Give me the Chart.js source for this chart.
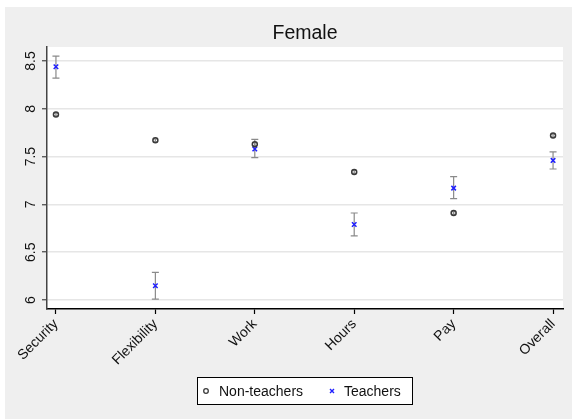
<!DOCTYPE html>
<html>
<head>
<meta charset="utf-8">
<script src="https://cdn.jsdelivr.net/npm/chart.js@4/dist/chart.umd.min.js"></script>
<style>
  html, body { margin: 0; padding: 0; background: #ffffff; }
  #wrap { width: 572px; height: 419px; }
</style>
</head>
<body>
<div id="wrap"><canvas id="c" width="572" height="419"></canvas></div>
<script>
// Job-satisfaction means by domain, female respondents
const categories = ['Security', 'Flexibility', 'Work', 'Hours', 'Pay', 'Overall'];
const nonTeachers = [7.94, 7.67, 7.63, 7.34, 6.91, 7.72];
const nonTeachersLow = [7.925, 7.655, 7.615, 7.325, 6.895, 7.705];
const nonTeachersHigh = [7.955, 7.685, 7.645, 7.355, 6.925, 7.735];
const teachers = [8.44, 6.15, 7.58, 6.79, 7.17, 7.46];
const teachersLow = [8.32, 6.01, 7.49, 6.67, 7.06, 7.37];
const teachersHigh = [8.55, 6.29, 7.68, 6.91, 7.29, 7.55];
const yTicks = [6, 6.5, 7, 7.5, 8, 8.5];
const titleText = 'Female';
const legendNames = ['Non-teachers', 'Teachers'];

const FONT = '"Liberation Sans", Arial, sans-serif';
const NT_COLOR = '#3a3a3a';
const T_COLOR = '#1f1fff';
const BAR_COLOR = '#8a8a8a';

const toPoints = vals => vals.map((v, i) => ({ x: i, y: v }));

// Backgrounds: page margin, gray panel, white plot region
const backdrop = {
  id: 'backdrop',
  beforeDraw(chart) {
    const { ctx, chartArea: a } = chart;
    ctx.save();
    ctx.fillStyle = '#ffffff';
    ctx.fillRect(0, 0, chart.width, chart.height);
    ctx.fillStyle = '#efefef';
    ctx.fillRect(5, 7, chart.width - 5, chart.height - 7);
    ctx.fillStyle = '#ffffff';
    ctx.fillRect(a.left, a.top, a.right - a.left, a.bottom - a.top);
    ctx.restore();
  }
};

// Confidence intervals drawn under the markers
const errorBars = {
  id: 'errorBars',
  beforeDatasetsDraw(chart) {
    const { ctx, scales: { x, y } } = chart;
    const sets = [
      { lo: nonTeachersLow, hi: nonTeachersHigh, cap: 2 },
      { lo: teachersLow, hi: teachersHigh, cap: 3.5 }
    ];
    ctx.save();
    ctx.strokeStyle = BAR_COLOR;
    ctx.lineWidth = 1.2;
    sets.forEach(s => {
      s.lo.forEach((lo, i) => {
        const px = x.getPixelForValue(i);
        const y1 = y.getPixelForValue(lo);
        const y2 = y.getPixelForValue(s.hi[i]);
        ctx.beginPath();
        ctx.moveTo(px, y1); ctx.lineTo(px, y2);
        ctx.moveTo(px - s.cap, y1); ctx.lineTo(px + s.cap, y1);
        ctx.moveTo(px - s.cap, y2); ctx.lineTo(px + s.cap, y2);
        ctx.stroke();
      });
    });
    ctx.restore();
  }
};

// Title, vertical y tick labels and boxed legend
const annotations = {
  id: 'annotations',
  afterDraw(chart) {
    const { ctx, chartArea: a, scales: { y } } = chart;
    ctx.save();
    // title centred over the plot region
    ctx.fillStyle = '#111111';
    ctx.font = '19.5px ' + FONT;
    ctx.textAlign = 'center';
    ctx.textBaseline = 'alphabetic';
    ctx.fillText(titleText, (a.left + a.right) / 2, 38.5);

    // y tick labels, reading bottom to top
    ctx.font = '14px ' + FONT;
    ctx.fillStyle = '#111111';
    yTicks.forEach(v => {
      const py = y.getPixelForValue(v);
      ctx.save();
      ctx.translate(35, py);
      ctx.rotate(-Math.PI / 2);
      ctx.textAlign = 'center';
      ctx.textBaseline = 'alphabetic';
      ctx.fillText(String(v), 0, 0);
      ctx.restore();
    });

    // legend box
    const bx = 197, by = 377, bw = 215, bh = 27;
    ctx.fillStyle = '#ffffff';
    ctx.fillRect(bx, by, bw, bh);
    ctx.strokeStyle = '#000000';
    ctx.lineWidth = 1;
    ctx.strokeRect(bx + 0.5, by + 0.5, bw, bh);
    const cy = by + 14;
    // hollow circle
    ctx.strokeStyle = NT_COLOR;
    ctx.lineWidth = 1.3;
    ctx.beginPath();
    ctx.arc(206, cy, 2.3, 0, Math.PI * 2);
    ctx.stroke();
    // cross
    ctx.strokeStyle = T_COLOR;
    ctx.lineWidth = 1.4;
    ctx.beginPath();
    ctx.moveTo(330, cy - 2); ctx.lineTo(334, cy + 2);
    ctx.moveTo(334, cy - 2); ctx.lineTo(330, cy + 2);
    ctx.stroke();
    ctx.fillStyle = '#111111';
    ctx.textAlign = 'left';
    ctx.textBaseline = 'alphabetic';
    ctx.fillText(legendNames[0], 219, 396);
    ctx.fillText(legendNames[1], 344, 396);
    ctx.restore();
  }
};

new Chart(document.getElementById('c'), {
  type: 'scatter',
  data: {
    datasets: [
      {
        label: legendNames[0],
        data: toPoints(nonTeachers),
        pointStyle: 'circle',
        pointRadius: 2.5,
        pointBorderWidth: 1.5,
        borderColor: NT_COLOR,
        backgroundColor: 'rgba(0,0,0,0)'
      },
      {
        label: legendNames[1],
        data: toPoints(teachers),
        pointStyle: 'crossRot',
        pointRadius: 3.2,
        pointBorderWidth: 1.5,
        borderColor: T_COLOR,
        backgroundColor: T_COLOR
      }
    ]
  },
  options: {
    responsive: false,
    animation: false,
    events: [],
    layout: { padding: { left: 5, top: 47, right: 9, bottom: 0 } },
    plugins: {
      legend: { display: false },
      title: { display: false },
      tooltip: { enabled: false }
    },
    scales: {
      x: {
        type: 'linear',
        min: -0.09,
        max: 5.1,
        afterBuildTicks(scale) { scale.ticks = categories.map((c, i) => ({ value: i })); },
        afterFit(scale) { scale.height = 110; scale.paddingLeft = 0; scale.paddingRight = 0; },
        border: { display: true, color: '#000000', width: 1.5 },
        grid: { drawOnChartArea: false, drawTicks: true, tickLength: 5, tickColor: '#000000', tickWidth: 1.2 },
        ticks: {
          autoSkip: false,
          minRotation: 45,
          maxRotation: 45,
          padding: 2,
          color: '#111111',
          font: { family: FONT, size: 14 },
          callback: v => categories[v]
        }
      },
      y: {
        type: 'linear',
        min: 5.906,
        max: 8.646,
        afterBuildTicks(scale) { scale.ticks = yTicks.map(v => ({ value: v })); },
        afterFit(scale) { scale.width = 42; scale.paddingTop = 0; scale.paddingBottom = 0; },
        border: { display: true, color: '#444444', width: 1.5 },
        grid: { color: '#e6e6e6', lineWidth: 1.5, drawTicks: true, tickLength: 5, tickColor: '#444444', tickWidth: 1.2 },
        ticks: { display: false }
      }
    }
  },
  plugins: [backdrop, errorBars, annotations]
});
</script>
</body>
</html>
